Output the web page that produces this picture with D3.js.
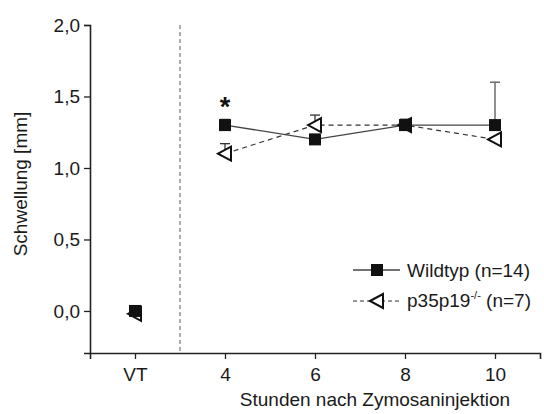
<!DOCTYPE html>
<html>
<head>
<meta charset="utf-8">
<script src="https://cdn.jsdelivr.net/npm/d3@7"></script>
<style>
  body { margin: 0; background: #fff; }
  svg { display: block; font-family: "Liberation Sans", Arial, sans-serif; }
</style>
</head>
<body>
<svg id="chart" width="544" height="414"></svg>
<script>
// Time points (x position: VT = pre-value, then hours after injection)
const timeLabels = ["VT", "4", "6", "8", "10"];
const timePos    = [2, 4, 6, 8, 10];

// Wildtyp (n=14): mean swelling and SEM
const wtMean = [0.0, 1.3, 1.2, 1.3, 1.3];
const wtErr  = [0.01, 0.04, 0.02, 0.04, 0.3];

// p35p19-/- (n=7): mean swelling and SEM
const koMean = [-0.02, 1.1, 1.3, 1.3, 1.2];
const koErr  = [0.01, 0.07, 0.07, 0.04, 0.0];

const yTicks = [0.0, 0.5, 1.0, 1.5, 2.0];

const FS = 19;
const svg = d3.select("#chart");
const x = d3.scaleLinear().domain([1, 11]).range([90, 540]);
const y = d3.scaleLinear().domain([-0.294, 2.0]).range([353, 25]);
const fmt = v => d3.format(".1f")(v).replace(".", ",");

// y axis
const yAxis = svg.append("g").attr("transform", `translate(${x(1)},0)`)
  .call(d3.axisLeft(y).tickValues(yTicks).tickFormat(fmt).tickSizeOuter(0).tickSize(6).tickPadding(4));
yAxis.select(".domain").attr("stroke", "#222").attr("stroke-width", 1.6);
yAxis.selectAll(".tick line").attr("stroke", "#222").attr("stroke-width", 1.3);
yAxis.selectAll("text").attr("font-size", FS).attr("fill", "#1a1a1a");

// x axis
const xAxis = svg.append("g").attr("transform", `translate(0,${y.range()[0]})`)
  .call(d3.axisBottom(x).tickValues(timePos).tickFormat((d, i) => timeLabels[i]).tickSizeOuter(0).tickSize(6).tickPadding(9));
xAxis.select(".domain").attr("stroke", "#222").attr("stroke-width", 1.6);
xAxis.selectAll(".tick line").attr("stroke", "#222").attr("stroke-width", 1.3);
xAxis.selectAll("text").attr("font-size", FS).attr("fill", "#1a1a1a");

// Separator between pre-value and time course
svg.append("line")
  .attr("x1", x(3)).attr("x2", x(3)).attr("y1", y(2.0)).attr("y2", y.range()[0])
  .attr("stroke", "#777").attr("stroke-width", 1.2).attr("stroke-dasharray", "4,3");

// Axis titles
svg.append("text").attr("x", 375).attr("y", 406).attr("text-anchor", "middle")
  .attr("font-size", FS).attr("fill", "#1a1a1a").text("Stunden nach Zymosaninjektion");
svg.append("text").attr("transform", `translate(27,184) rotate(-90)`)
  .attr("text-anchor", "middle").attr("font-size", FS).attr("fill", "#1a1a1a").text("Schwellung [mm]");

const wtData = timePos.map((t, i) => ({ t, m: wtMean[i], e: wtErr[i] }));
const koData = timePos.map((t, i) => ({ t, m: koMean[i], e: koErr[i] }));

const line = d3.line().x(d => x(d.t)).y(d => y(d.m));

// Connecting lines (time course only, not the pre-value)
svg.append("path").datum(koData.slice(1)).attr("d", line)
  .attr("fill", "none").attr("stroke", "#333").attr("stroke-width", 1.2).attr("stroke-dasharray", "5,4");
svg.append("path").datum(wtData.slice(1)).attr("d", line)
  .attr("fill", "none").attr("stroke", "#444").attr("stroke-width", 1.3);

// Error bars (upper SEM)
function errBars(data, color) {
  const g = svg.append("g");
  data.filter(d => d.e > 0).forEach(d => {
    g.append("line").attr("x1", x(d.t)).attr("x2", x(d.t)).attr("y1", y(d.m)).attr("y2", y(d.m + d.e))
      .attr("stroke", color).attr("stroke-width", 1.3);
    g.append("line").attr("x1", x(d.t) - 5).attr("x2", x(d.t) + 5).attr("y1", y(d.m + d.e)).attr("y2", y(d.m + d.e))
      .attr("stroke", color).attr("stroke-width", 1.3);
  });
}
errBars(koData, "#333");
errBars(wtData, "#555");

// Markers
const tri = (cx, cy) => `M${cx - 7},${cy} L${cx + 6},${cy - 7} L${cx + 6},${cy + 7} Z`;
svg.append("g").selectAll("path").data(koData).join("path")
  .attr("d", d => tri(x(d.t), y(d.m)))
  .attr("fill", "#fff").attr("stroke", "#111").attr("stroke-width", 2).attr("stroke-linejoin", "miter");
svg.append("g").selectAll("rect").data(wtData).join("rect")
  .attr("x", d => x(d.t) - 6).attr("y", d => y(d.m) - 6)
  .attr("width", 12).attr("height", 12).attr("fill", "#111");

// Significance marker
svg.append("text").attr("x", x(4)).attr("y", y(1.3) - 9).attr("text-anchor", "middle")
  .attr("font-size", 27).attr("font-weight", "bold").attr("fill", "#111").text("*");

// Legend
const lg = svg.append("g");
const lx0 = 353, lx1 = 400, lmid = 377;
lg.append("line").attr("x1", lx0).attr("x2", lx1).attr("y1", 270).attr("y2", 270)
  .attr("stroke", "#444").attr("stroke-width", 1.3);
lg.append("rect").attr("x", lmid - 6).attr("y", 264).attr("width", 12).attr("height", 12).attr("fill", "#111");
lg.append("text").attr("x", 407).attr("y", 277).attr("font-size", FS).attr("fill", "#1a1a1a").text("Wildtyp (n=14)");

lg.append("line").attr("x1", lx0).attr("x2", lx1).attr("y1", 301).attr("y2", 301)
  .attr("stroke", "#333").attr("stroke-width", 1.2).attr("stroke-dasharray", "4,3");
lg.append("path").attr("d", tri(lmid, 301)).attr("fill", "#fff").attr("stroke", "#111").attr("stroke-width", 2);
const t2 = lg.append("text").attr("x", 407).attr("y", 307).attr("font-size", FS).attr("fill", "#1a1a1a");
t2.append("tspan").text("p35p19");
t2.append("tspan").attr("dy", -8).attr("font-size", 11).text("-/-");
t2.append("tspan").attr("dy", 8).text(" (n=7)");
</script>
</body>
</html>
